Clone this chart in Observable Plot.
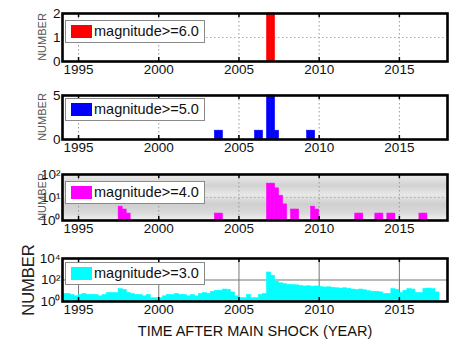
<!DOCTYPE html>
<html><head><meta charset="utf-8">
<script src="https://cdn.jsdelivr.net/npm/d3@7"></script>
<script src="https://cdn.jsdelivr.net/npm/@observablehq/plot@0.6"></script>
<style>
body{margin:0;background:#fff;font-family:"Liberation Sans",Arial,sans-serif;}
#root{position:relative;width:458px;height:343px;overflow:hidden;background:#fff;}
.panel{position:absolute;left:0;}
.bg{position:absolute;}
.legend{position:absolute;left:65px;width:140px;height:23px;background:#fff;border:1px solid #8a8a8a;box-sizing:border-box;font-size:14.5px;color:#111;}
.legend .sw{position:absolute;left:5px;top:4px;width:21px;height:13px;}
.legend .tx{position:absolute;left:28px;top:2px;line-height:17px;white-space:nowrap;}
.ylab{position:absolute;white-space:nowrap;transform:translate(-50%,-50%) rotate(-90deg);}
.xlab{position:absolute;white-space:nowrap;transform:translate(-50%,-50%);font-size:14.5px;color:#111;}
</style>
</head>
<body>
<div id="root"></div>
<script>
// quarter-year bins
const BIN = 0.25;
const xTicks = [1995, 2000, 2005, 2010, 2015];

// magnitude >= 6.0
const m6Years = [2006.75, 2007.0];
const m6Counts = [2, 2];

// magnitude >= 5.0
const m5Years = [2003.5, 2003.75, 2006.0, 2006.25, 2006.75, 2007.0, 2007.25, 2009.25, 2009.5];
const m5Counts = [1, 1, 1, 1, 5, 5, 1, 1, 1];

// magnitude >= 4.0
const m4Years = [1997.5, 1997.75, 1998.0, 2003.5, 2003.75, 2006.75, 2007.0, 2007.25, 2007.5, 2007.75,
  2008.25, 2008.5, 2009.5, 2009.75, 2012.25, 2012.5, 2013.5, 2013.75, 2014.25, 2014.5, 2016.25, 2016.5];
const m4Counts = [4, 3, 2, 2, 2, 40, 40, 25, 12, 5, 3, 3, 4, 3, 2, 2, 2, 2, 2, 2, 2, 2];

// magnitude >= 3.0 (quarterly counts from 1994.0)
const m3Start = 1994;
const m3Counts = [
  5,5,4,3,4,5,4,4,4,3,
  4,6,6,6,14,12,6,5,4,4,
  3,4,2,2,2,3,4,4,5,4,
  4,3,4,3,5,6,5,8,10,10,
  13,12,7,3,2,2,4,2,2,4,
  5,500,250,70,50,41,35,33,32,28,
  25,26,24,25,22,20,21,19,17,16,
  17,15,13,12,13,11,9,8,8,7,
  5,5,14,12,6,10,14,13,6,6,
  15,16,14,7];
const m3Years = m3Counts.map((_, i) => m3Start + i * BIN);

const sup = {1: "10\u2070", 10: "10\u00b9", 100: "10\u00b2", 10000: "10\u2074"};

const panels = [
  {years: m6Years, counts: m6Counts, color: "#ff0000", type: "linear", domain: [0, 2], ticks: [0, 1, 2],
   fmt: d => String(d), top: 13, h: 48, gridY: [1], dash: "1.5,2.5", label: "magnitude>=6.0", legTop: 20, bg: null},
  {years: m5Years, counts: m5Counts, color: "#0000ff", type: "linear", domain: [0, 5], ticks: [0, 5],
   fmt: d => String(d), top: 95, h: 44, gridY: [], dash: "1.5,2.5", label: "magnitude>=5.0", legTop: 98, bg: null},
  {years: m4Years, counts: m4Counts, color: "#ff00ff", type: "log", domain: [1, 100], ticks: [1, 10, 100],
   fmt: d => sup[d], top: 174, h: 46, gridY: [10], dash: "1.5,2.5", label: "magnitude>=4.0", legTop: 181,
   bg: "linear-gradient(to bottom,#ececec 0%,#d2d2d2 25%,#e8e8e8 45%,#cfcfcf 65%,#dadada 85%,#f2f2f2 100%)"},
  {years: m3Years, counts: m3Counts, color: "#00ffff", type: "log", domain: [1, 10000], ticks: [1, 100, 10000],
   fmt: d => sup[d], top: 258, h: 43, gridY: [100], dash: null, label: "magnitude>=3.0", legTop: 262, bg: null}
];

const root = document.getElementById("root");
const ML = 62, MR = 11, MT = 10, MB = 22;

panels.forEach((p, idx) => {
  const data = p.years.map((y, i) => ({x1: y, x2: y + BIN, v: p.counts[i]}));
  const base = p.domain[0];
  if (p.bg) {
    const bg = document.createElement("div");
    bg.className = "bg";
    bg.style.left = ML + "px"; bg.style.top = p.top + "px";
    bg.style.width = (458 - ML - MR) + "px"; bg.style.height = p.h + "px";
    bg.style.background = p.bg;
    root.appendChild(bg);
  }
  const chart = Plot.plot({
    width: 458, height: p.h + MT + MB,
    marginLeft: ML, marginRight: MR, marginTop: MT, marginBottom: MB,
    style: {background: "transparent", fontFamily: "'Liberation Sans', Arial, sans-serif", fontSize: "13px", color: "#111", overflow: "visible"},
    x: {domain: [1994, 2018]},
    y: {type: p.type, domain: p.domain},
    marks: [
      Plot.ruleX(xTicks, {stroke: idx === 3 ? "#777" : "#999", strokeWidth: 1, strokeDasharray: p.dash}),
      Plot.ruleY(p.gridY, {stroke: idx === 3 ? "#777" : "#aaa", strokeWidth: 1, strokeDasharray: p.dash}),
      Plot.rectY(data, {x1: "x1", x2: "x2", y1: base, y2: "v", fill: p.color, stroke: p.color, strokeWidth: 0.6}),
      Plot.ruleX(xTicks, {stroke: "#000", strokeWidth: 1.5, insetTop: p.h - 4}),
      Plot.ruleX(xTicks, {stroke: "#000", strokeWidth: 1.5, insetBottom: p.h - 4}),
      Plot.axisX(xTicks, {tickSize: 0, tickPadding: 3, tickFormat: d => String(d), fontSize: 13.5}),
      Plot.axisY(p.ticks, {tickSize: 0, tickPadding: 2, tickFormat: p.fmt, fontSize: 13.5, label: null}),
      Plot.frame({stroke: "#000", strokeWidth: 2.6})
    ]
  });
  chart.classList.add("panel");
  chart.style.top = (p.top - MT) + "px";
  root.appendChild(chart);

  const leg = document.createElement("div");
  leg.className = "legend";
  leg.style.top = p.legTop + "px";
  leg.innerHTML = `<div class="sw" style="background:${p.color}"></div><div class="tx">${p.label.replace(">", "&gt;")}</div>`;
  root.appendChild(leg);

  const yl = document.createElement("div");
  yl.className = "ylab";
  yl.textContent = "NUMBER";
  if (idx < 3) {
    yl.style.left = "42px"; yl.style.fontSize = "11px"; yl.style.color = "#555";
  } else {
    yl.style.left = "28px"; yl.style.fontSize = "16.5px"; yl.style.color = "#222";
  }
  yl.style.top = (p.top + p.h / 2) + "px";
  root.appendChild(yl);
});

const xl = document.createElement("div");
xl.className = "xlab";
xl.textContent = "TIME AFTER MAIN SHOCK (YEAR)";
xl.style.left = "255px"; xl.style.top = "331px";
root.appendChild(xl);
</script>
</body></html>
